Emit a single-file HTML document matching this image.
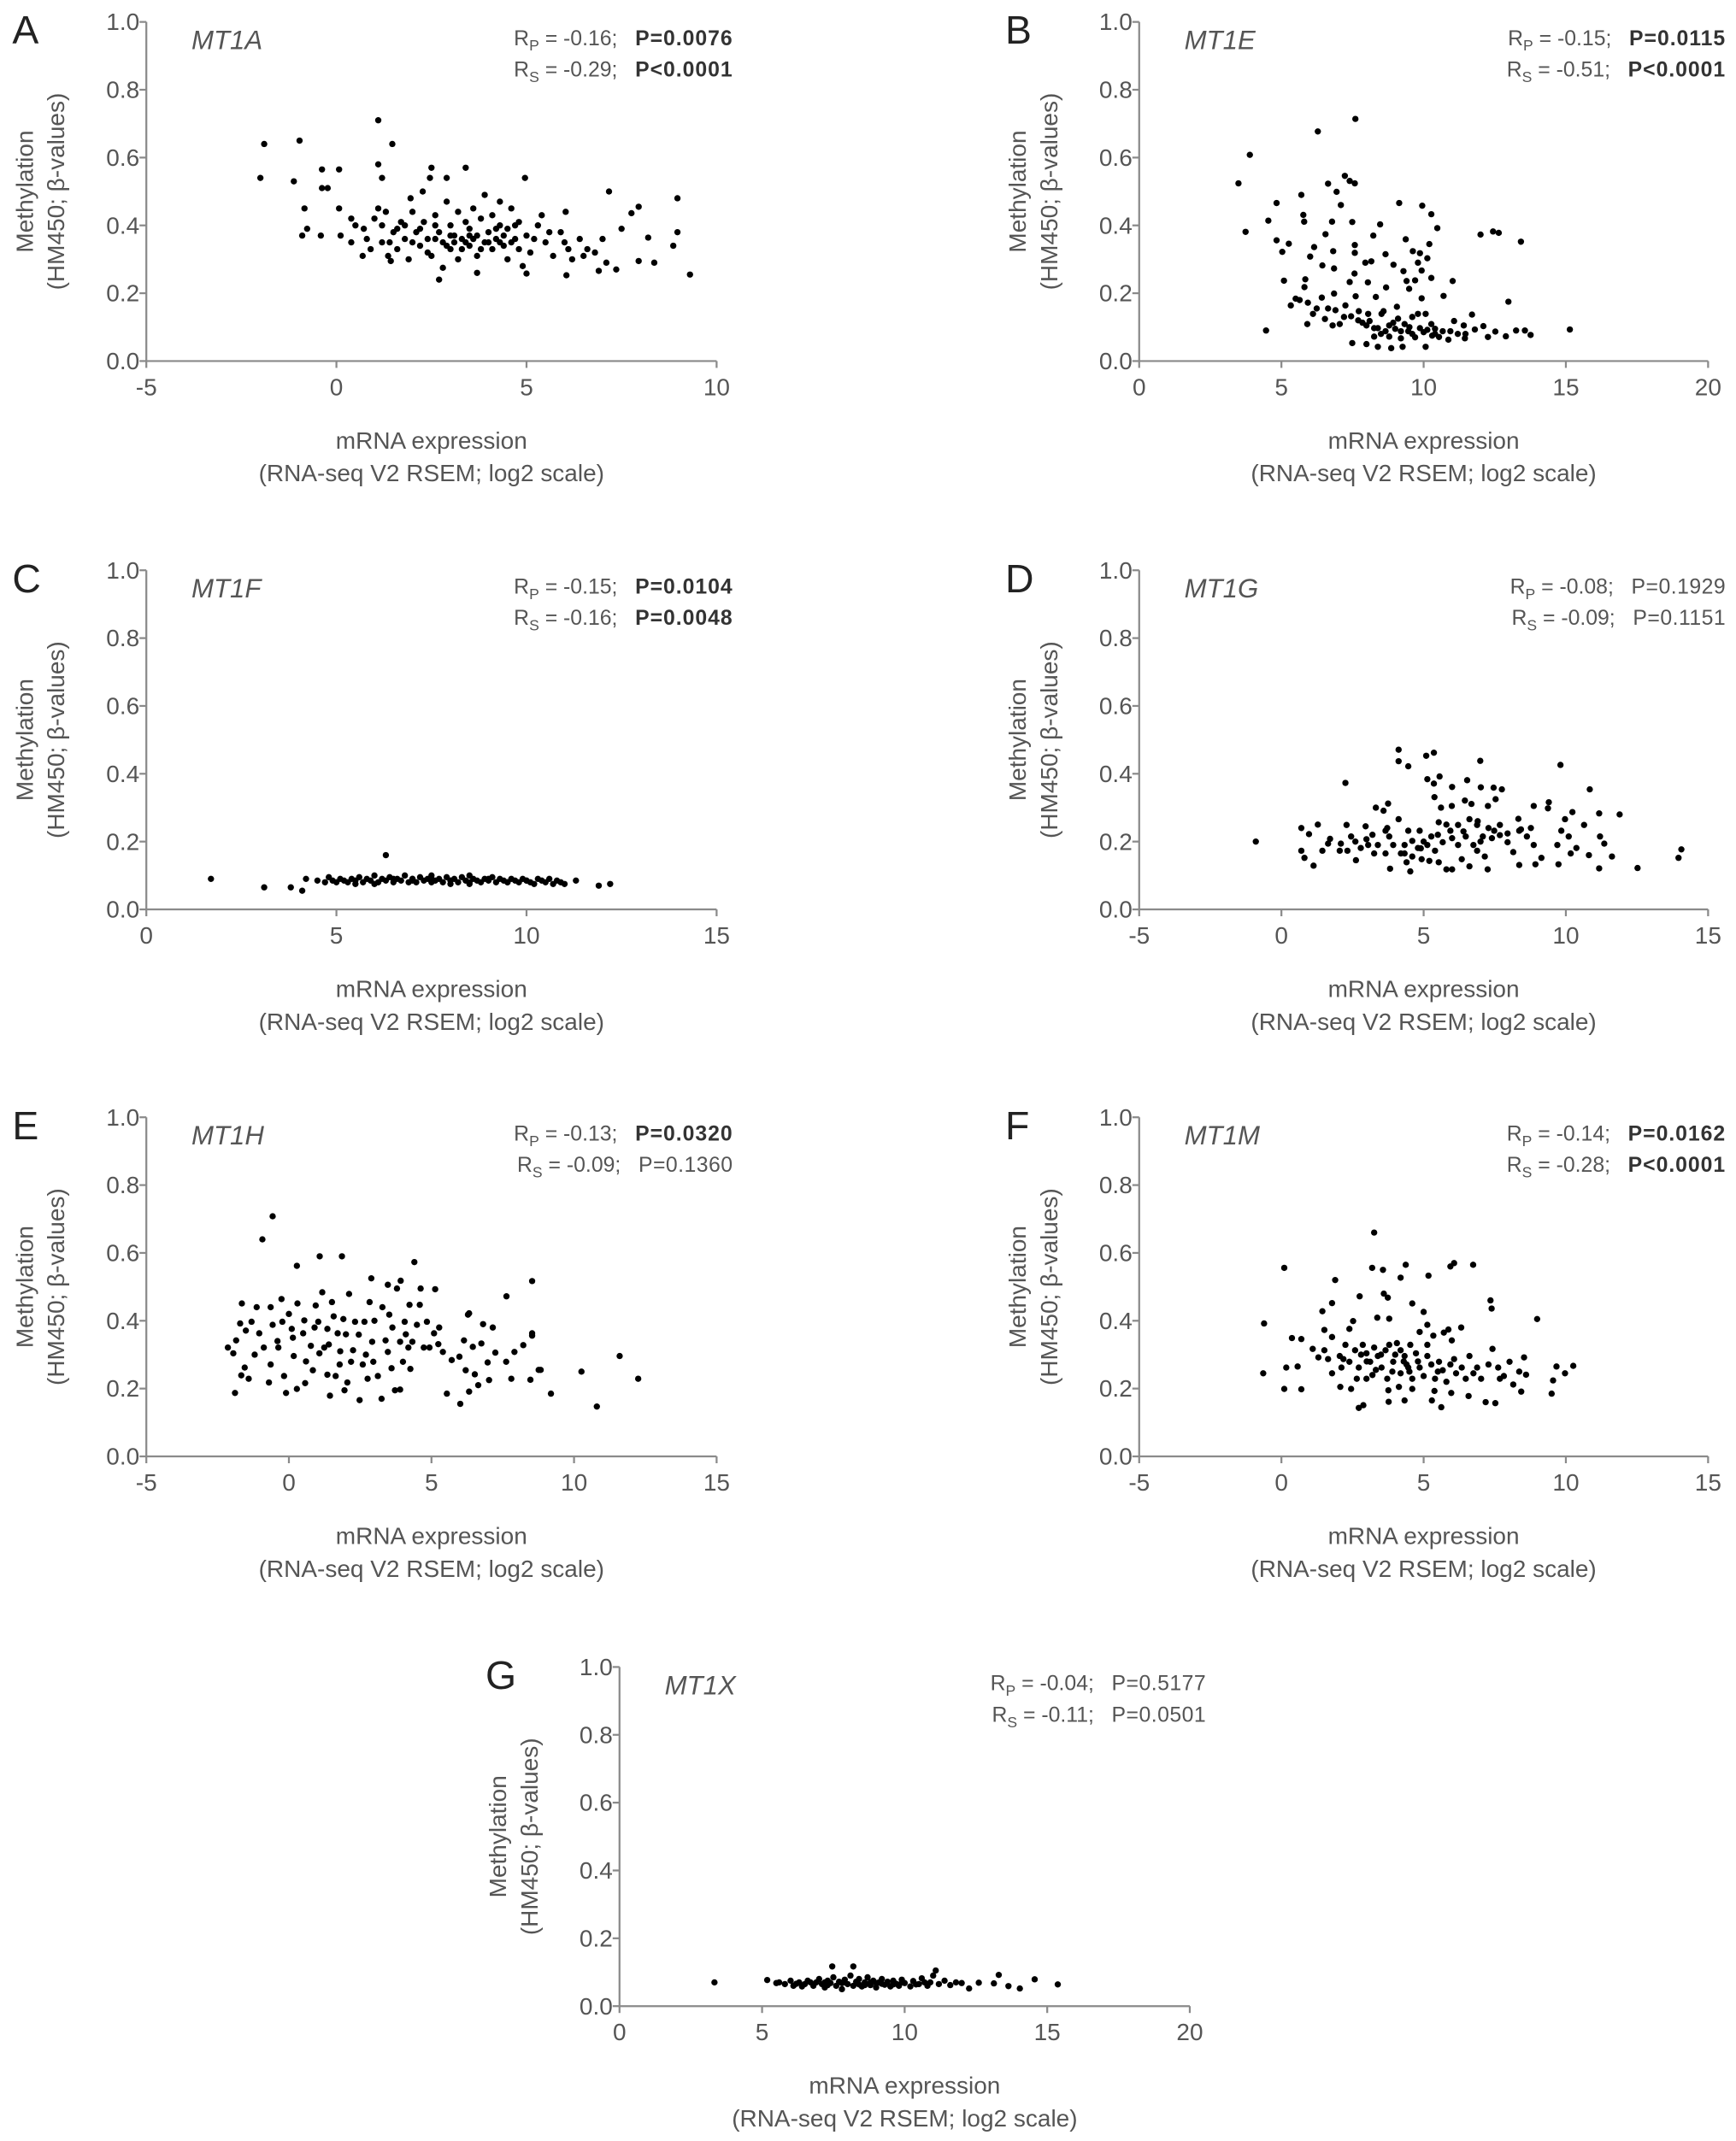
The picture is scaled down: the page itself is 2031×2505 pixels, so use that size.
<!DOCTYPE html>
<html><head><meta charset="utf-8"><style>
html,body{margin:0;padding:0;background:#fff;}
svg{display:block;}
text{font-family:"Liberation Sans",sans-serif;fill:#555;}
.stat{white-space:pre;}
</style></head><body>
<svg id="fig" width="2031" height="2505" viewBox="0 0 1269.4 1565.6" xmlns="http://www.w3.org/2000/svg"></svg>
<script>
const pointsA=[[-2.0,.54],[-1.9,.64],[-1.12,.53],[-0.97,.65],[-0.84,.45],[-0.77,.39],[-0.9,.37],[-0.38,.51],[-0.23,.51],[-0.38,.565],[-0.41,.37],[0.07,.565],[0.07,.45],[0.11,.37],[0.39,.35],[0.39,.42],[0.69,.31],[0.72,.39],[1.1,.71],[1.1,.58],[1.2,.54],[1.47,.64],[1.1,.45],[1.36,.31],[1.43,.295],[2.5,.57],[2.46,.54],[3.4,.57],[4.96,.54],[2.27,.50],[1.95,.48],[2.9,.54],[7.17,.50],[8.97,.48],[7.95,.455],[7.76,.436],[7.5,.39],[8.2,.364],[8.36,.29],[7.95,.295],[8.86,.34],[8.97,.38],[9.3,.255],[7.36,.27],[6.9,.266],[6.05,.253],[6.03,.44],[5.4,.43],[5.0,.258],[2.7,.24],[3.7,.26],[2.8,.275],
[0.5,.40],[0.8,.36],[1.0,.42],[1.2,.35],[1.3,.44],[1.5,.38],[1.6,.33],[1.7,.41],[1.8,.36],[1.9,.30],[2.0,.44],[2.1,.38],[2.2,.34],[2.3,.41],[2.4,.36],[2.5,.31],[2.6,.43],[2.7,.38],[2.8,.35],[2.9,.47],[3.0,.40],[3.0,.33],[3.1,.37],[3.2,.44],[3.2,.30],[3.3,.36],[3.4,.41],[3.5,.34],[3.5,.39],[3.6,.45],[3.7,.37],[3.7,.31],[3.8,.42],[3.9,.35],[3.9,.49],[4.0,.38],[4.1,.33],[4.1,.43],[4.2,.36],[4.3,.40],[4.3,.47],[4.4,.34],[4.5,.39],[4.5,.30],[4.6,.45],[4.7,.36],[4.8,.33],[4.8,.41],[4.9,.28],[5.0,.37],[5.1,.32],[5.3,.40],[5.5,.35],[5.7,.31],[5.9,.38],[6.1,.33],[6.2,.30],[6.4,.36],[6.5,.31],[6.8,.32],[7.0,.36],[7.1,.29],[2.2,.39],[2.6,.36],[3.1,.35],[3.6,.36],[4.0,.35],[4.4,.37],[1.4,.35],[1.8,.40],[2.9,.34],[3.3,.33],[2.4,.32],[3.0,.37],[3.4,.35],[3.8,.33],[4.2,.39],[4.6,.35],[5.2,.36],[5.6,.38],[6.0,.35],[6.6,.33],[1.6,.39],[2.0,.35],[2.6,.40],[3.5,.37],[4.3,.35],[4.7,.40],[0.9,.33],[1.2,.40]];
const pointsB=[[3.49,.524],[3.89,.608],[3.74,.381],[4.46,.09],[4.83,.466],[4.54,.414],[4.83,.356],[5.03,.322],[5.26,.346],[5.09,.237],[5.7,.49],[5.77,.431],[5.8,.411],[6.28,.677],[6.64,.523],[6.94,.499],[7.23,.546],[7.4,.531],[7.58,.524],[7.6,.714],[7.09,.46],[6.78,.411],[6.55,.374],[7.49,.41],[6.15,.336],[6.01,.308],[6.82,.324],[6.44,.282],[6.85,.273],[7.58,.342],[7.58,.319],[7.57,.258],[7.4,.233],[5.84,.241],[5.81,.218],[8.23,.37],[8.47,.403],[8.66,.315],[8.16,.294],[7.95,.29],[8.04,.232],[8.68,.217],[8.94,.284],[9.14,.466],[9.37,.359],[9.29,.265],[9.4,.236],[9.7,.238],[9.49,.213],[9.62,.324],[9.87,.318],[9.8,.29],[9.93,.267],[10.13,.303],[9.95,.458],[10.27,.433],[10.48,.392],[10.2,.345],[10.27,.245],[11.02,.236],[10.7,.192],[12.0,.373],[12.44,.382],[12.64,.378],[13.42,.352],[12.98,.175],[11.7,.137],[15.14,.093],[13.76,.077],[13.56,.09],[13.25,.09],[12.89,.073],[12.52,.087],[12.26,.071],[12.1,.103],[11.8,.093],[11.45,.067],[11.41,.105],[11.07,.118],[10.87,.063],[10.67,.088],[10.4,.08],[10.13,.092],[10.07,.042],[9.87,.097],[9.8,.139],[9.93,.185],[9.6,.08],[9.33,.109],[9.2,.067],[9.26,.042],[9.06,.16],[8.86,.038],[8.79,.105],[8.52,.139],[8.39,.042],[8.32,.189],[8.26,.097],[7.99,.05],[7.99,.105],[7.85,.113],[7.49,.053],[7.61,.191],[7.45,.132],[7.25,.164],[7.05,.109],[6.85,.199],[6.8,.105],[6.64,.155],[6.53,.124],[6.42,.187],[6.24,.155],[6.11,.139],[5.91,.109],[5.93,.172],[5.5,.184],[5.33,.164],[5.64,.18],[8.39,.097],[8.66,.088],[8.93,.113],[9.46,.088],[10.27,.109],[10.54,.071],[10.94,.088],[11.2,.08],[11.47,.08],[9.2,.088],[9.6,.13],[10.07,.139],[8.59,.147],[8.05,.139],[7.72,.147],[8.26,.072],[8.79,.072],[9.0,.095],[9.5,.1],[10.0,.085],[10.4,.095],[8.5,.08],[7.7,.12],[7.2,.13],[6.9,.15],[8.1,.118],[9.1,.125],[9.7,.07],[10.3,.075]];
const pointsC=[[1.7,.09],[3.1,.065],[3.8,.065],[4.1,.055],[4.2,.09],[4.5,.085],[4.7,.08],[4.8,.095],[4.9,.085],[5.0,.08],[5.1,.09],[5.2,.085],[5.3,.08],[5.4,.09],[5.5,.085],[5.6,.095],[5.7,.08],[5.8,.09],[5.9,.085],[6.0,.1],[6.1,.08],[6.2,.09],[6.3,.16],[6.3,.085],[6.4,.095],[6.5,.08],[6.6,.09],[6.7,.085],[6.8,.1],[6.9,.08],[7.0,.09],[7.0,.085],[7.1,.08],[7.2,.095],[7.3,.085],[7.4,.09],[7.5,.08],[7.5,.1],[7.6,.085],[7.7,.09],[7.8,.08],[7.9,.095],[8.0,.085],[8.0,.075],[8.1,.09],[8.2,.08],[8.3,.095],[8.4,.085],[8.5,.08],[8.5,.1],[8.6,.09],[8.7,.085],[8.8,.08],[8.9,.09],[9.0,.085],[9.1,.095],[9.2,.08],[9.3,.09],[9.4,.085],[9.5,.08],[9.6,.09],[9.7,.085],[9.8,.08],[9.9,.09],[10.0,.085],[10.1,.08],[10.2,.075],[10.3,.09],[10.4,.085],[10.5,.08],[10.6,.09],[10.7,.075],[10.8,.085],[10.9,.08],[11.0,.075],[11.3,.085],[11.9,.07],[12.2,.075],[5.5,.075],[6.5,.09],[7.5,.09],[8.5,.075],[9.5,.08],[6.0,.075],[7.0,.09],[8.0,.085],[9.0,.09],[10.0,.085]];
const pointsD=[[-0.9,.2],[.7,.24],[.97,.222],[1.28,.25],[.7,.173],[.81,.152],[1.13,.129],[1.44,.173],[1.71,.208],[2.09,.194],[2.25,.373],[2.29,.249],[2.32,.173],[2.62,.145],[2.96,.245],[3.05,.19],[3.32,.3],[3.59,.291],[3.75,.312],[3.72,.24],[3.79,.215],[3.82,.12],[4.12,.471],[4.12,.437],[4.46,.422],[4.12,.266],[4.33,.165],[4.53,.112],[4.4,.139],[5.09,.453],[5.36,.462],[5.13,.384],[5.36,.371],[5.56,.392],[5.38,.331],[6.0,.361],[6.53,.381],[6.99,.438],[7.01,.36],[7.46,.359],[7.75,.354],[7.53,.325],[7.26,.305],[5.99,.305],[5.61,.3],[6.45,.321],[6.68,.311],[9.81,.426],[10.84,.354],[11.89,.28],[14.06,.177],[13.96,.152],[12.52,.122],[11.62,.156],[11.17,.121],[11.35,.194],[11.2,.215],[11.17,.283],[10.81,.16],[10.64,.249],[10.17,.165],[10.23,.287],[9.74,.133],[9.4,.316],[9.37,.298],[8.87,.305],[9.14,.152],[8.93,.133],[8.87,.19],[8.36,.131],[8.33,.267],[8.42,.236],[8.15,.169],[7.95,.198],[7.68,.219],[7.25,.118],[7.15,.156],[6.88,.173],[6.61,.127],[6.34,.148],[6.0,.118],[5.8,.118],[5.53,.139],[5.2,.143],[5.13,.19],[4.93,.148],[4.8,.181],[4.6,.156],[4.33,.19],[4.2,.165],[3.93,.19],[3.66,.165],[3.39,.19],[3.26,.165],[2.99,.207],[2.79,.181],[2.45,.215],[2.05,.173],[1.64,.194],[4.46,.232],[4.86,.232],[5.27,.215],[5.53,.257],[5.67,.198],[5.94,.232],[6.21,.249],[6.48,.215],[6.61,.266],[6.88,.249],[7.08,.215],[7.28,.24],[7.48,.232],[7.68,.249],[7.95,.224],[8.36,.232],[8.63,.215],[8.77,.24],[9.7,.19],[9.84,.232],[9.97,.266],[10.1,.215],[10.37,.181],[6.21,.19],[5.4,.173],[6.75,.19],[3.66,.232],[4.6,.202],[5.0,.2],[5.5,.22],[6.0,.21],[6.4,.23],[7.0,.2],[7.4,.21],[5.8,.25],[6.9,.26],[4.9,.18],[3.2,.22],[2.6,.2]];
const pointsE=[[-0.57,.708],[-.93,.64],[.28,.562],[1.08,.59],[1.86,.59],[4.4,.573],[2.89,.525],[3.47,.506],[3.92,.518],[3.79,.495],[4.62,.495],[5.13,.493],[8.53,.517],[7.63,.472],[6.32,.422],[6.28,.418],[6.81,.39],[7.15,.38],[8.53,.356],[8.22,.328],[7.91,.308],[11.6,.296],[12.25,.229],[10.26,.25],[9.19,.185],[10.8,.147],[8.76,.255],[8.47,.226],[7.8,.229],[7.62,.279],[7.02,.225],[6.64,.21],[6.32,.191],[6.01,.155],[5.54,.185],[5.71,.284],[5.4,.308],[5.24,.331],[5.98,.294],[6.14,.342],[6.45,.323],[6.75,.333],[6.52,.242],[6.2,.254],[6.97,.277],[7.24,.306],[-1.89,.187],[-2.14,.321],[-1.95,.304],[-1.85,.342],[-1.65,.451],[-1.71,.392],[-1.51,.371],[-1.55,.262],[-1.67,.239],[-1.41,.229],[-1.31,.397],[-1.13,.44],[-1.04,.363],[-.88,.321],[-0.7,.218],[-.64,.44],[-.57,.388],[-.64,.271],[-.37,.321],[-.26,.464],[-.23,.397],[-.1,.187],[-.17,.237],[.1,.376],[.14,.35],[.17,.296],[.3,.451],[.28,.199],[.5,.363],[.54,.401],[.57,.216],[.77,.326],[.84,.254],[.94,.445],[1.03,.397],[1.07,.304],[1.17,.484],[1.24,.321],[1.35,.376],[1.35,.241],[1.44,.179],[1.51,.455],[1.57,.413],[1.64,.237],[1.71,.363],[1.78,.271],[1.91,.405],[1.95,.195],[2.05,.218],[2.11,.479],[2.18,.279],[2.25,.313],[2.32,.397],[2.45,.359],[2.48,.166],[2.59,.271],[2.65,.397],[2.76,.229],[2.83,.455],[2.92,.338],[2.96,.279],[3.12,.237],[3.25,.17],[3.28,.44],[3.39,.342],[3.47,.308],[3.52,.418],[3.63,.38],[3.72,.195],[3.9,.197],[3.9,.338],[4.0,.279],[4.06,.397],[4.19,.321],[4.23,.447],[4.26,.258],[4.33,.338],[4.49,.388],[4.59,.447],[4.73,.321],[4.84,.397],[4.93,.321],[5.09,.363],[5.27,.38],[8.83,.255],[8.53,.363],[-1.2,.3],[-0.4,.34],[0.6,.28],[1.4,.33],[2.0,.36],[2.7,.3],[3.0,.4],[3.6,.26],[4.1,.36],[0.0,.42],[0.9,.38],[1.8,.31]];
const pointsF=[[3.26,.66],[.1,.556],[3.19,.556],[3.57,.55],[4.37,.565],[5.94,.56],[6.07,.57],[6.74,.565],[4.19,.527],[5.17,.533],[1.89,.52],[2.75,.472],[3.6,.48],[3.74,.468],[4.6,.451],[5.0,.426],[1.78,.452],[1.44,.428],[7.35,.46],[7.39,.436],[8.99,.405],[-.61,.392],[-.64,.245],[.1,.199],[.7,.198],[.37,.349],[.7,.346],[.17,.262],[.57,.265],[1.51,.373],[1.78,.352],[1.1,.317],[1.3,.292],[2.52,.399],[2.39,.376],[3.37,.409],[3.79,.406],[5.13,.388],[4.86,.367],[5.34,.356],[5.71,.365],[5.87,.374],[6.32,.38],[5.99,.342],[7.42,.317],[8.53,.292],[9.67,.265],[10.26,.267],[9.97,.245],[9.55,.224],[9.5,.185],[8.43,.191],[8.6,.241],[8.02,.279],[7.18,.16],[7.52,.157],[6.58,.178],[5.62,.145],[5.29,.165],[4.33,.165],[3.77,.161],[2.72,.143],[2.88,.151],[2.07,.205],[2.45,.199],[3.76,.195],[4.13,.205],[4.6,.199],[5.38,.193],[5.97,.187],[7.68,.229],[8.15,.212],[1.78,.245],[2.11,.262],[2.18,.287],[2.25,.329],[2.59,.313],[2.72,.262],[2.65,.229],[2.86,.329],[2.99,.304],[3.12,.279],[3.26,.321],[3.32,.255],[3.39,.296],[3.52,.262],[3.66,.313],[3.72,.229],[3.93,.279],[4.06,.334],[4.19,.245],[4.33,.296],[4.4,.271],[4.53,.329],[4.6,.229],[4.73,.304],[4.86,.262],[5.0,.237],[5.13,.296],[5.27,.271],[5.4,.229],[5.54,.279],[5.67,.254],[5.8,.22],[5.94,.271],[6.14,.245],[6.34,.262],[6.48,.229],[6.61,.296],[6.75,.245],[6.88,.262],[7.02,.229],[7.28,.271],[7.62,.262],[7.82,.237],[8.36,.25],[2.05,.296],[2.39,.279],[2.99,.229],[5.13,.329],[3.79,.329],[4.19,.313],[4.46,.262],[6.07,.287],[1.64,.287],[1.51,.313],[3.0,.28],[3.5,.3],[3.9,.25],[4.3,.28],[4.8,.28],[5.5,.25],[2.8,.3],[3.2,.24],[4.0,.3],[4.5,.25]];
const pointsG=[[3.33,.07],[5.18,.077],[7.46,.117],[8.2,.117],[11.09,.105],[13.3,.092],[14.56,.079],[15.37,.064],[14.04,.052],[13.64,.059],[13.13,.067],[12.6,.069],[12.26,.052],[5.6,.07],[5.8,.065],[6.0,.075],[6.1,.06],[6.3,.07],[6.5,.065],[6.6,.075],[6.8,.06],[6.9,.07],[7.0,.08],[7.1,.065],[7.2,.055],[7.3,.075],[7.4,.068],[7.5,.085],[7.6,.06],[7.7,.072],[7.8,.05],[7.9,.078],[8.0,.065],[8.1,.09],[8.2,.06],[8.3,.072],[8.4,.08],[8.5,.058],[8.6,.07],[8.7,.085],[8.8,.062],[8.9,.075],[9.0,.055],[9.1,.07],[9.2,.08],[9.3,.063],[9.4,.072],[9.5,.058],[9.6,.075],[9.7,.066],[9.8,.06],[9.9,.078],[10.0,.068],[10.2,.058],[10.3,.074],[10.5,.065],[10.6,.082],[10.8,.06],[10.9,.07],[11.0,.09],[11.2,.065],[11.4,.075],[11.6,.062],[11.8,.07],[12.0,.068],[7.2,.07],[7.8,.068],[8.4,.064],[9.0,.068],[9.6,.064],[10.4,.064],[6.4,.058],[5.5,.068],[6.7,.07],[7.3,.062],[7.9,.07],[8.6,.062],[9.2,.066],[9.9,.07],[10.7,.07],[6.2,.066],[8.8,.07]];

const panels=[
 {id:'a',letter:'A',gene:'MT1A',x0:107,top:16,right:524,xmin:-5,xmax:10,xticks:[-5,0,5,10],pts:pointsA,rp:'-0.16',pp:'P=0.0076',bp:true,rs:'-0.29',ps:'P<0.0001',bs:true},
 {id:'b',letter:'B',gene:'MT1E',x0:833,top:16,right:1249,xmin:0,xmax:20,xticks:[0,5,10,15,20],pts:pointsB,rp:'-0.15',pp:'P=0.0115',bp:true,rs:'-0.51',ps:'P<0.0001',bs:true},
 {id:'c',letter:'C',gene:'MT1F',x0:107,top:417,right:524,xmin:0,xmax:15,xticks:[0,5,10,15],pts:pointsC,rp:'-0.15',pp:'P=0.0104',bp:true,rs:'-0.16',ps:'P=0.0048',bs:true},
 {id:'d',letter:'D',gene:'MT1G',x0:833,top:417,right:1249,xmin:-5,xmax:15,xticks:[-5,0,5,10,15],pts:pointsD,rp:'-0.08',pp:'P=0.1929',bp:false,rs:'-0.09',ps:'P=0.1151',bs:false},
 {id:'e',letter:'E',gene:'MT1H',x0:107,top:817,right:524,xmin:-5,xmax:15,xticks:[-5,0,5,10,15],pts:pointsE,rp:'-0.13',pp:'P=0.0320',bp:true,rs:'-0.09',ps:'P=0.1360',bs:false},
 {id:'f',letter:'F',gene:'MT1M',x0:833,top:817,right:1249,xmin:-5,xmax:15,xticks:[-5,0,5,10,15],pts:pointsF,rp:'-0.14',pp:'P=0.0162',bp:true,rs:'-0.28',ps:'P<0.0001',bs:true},
 {id:'g',letter:'G',gene:'MT1X',x0:453,top:1219,right:870,xmin:0,xmax:20,xticks:[0,5,10,15,20],pts:pointsG,rp:'-0.04',pp:'P=0.5177',bp:false,rs:'-0.11',ps:'P=0.0501',bs:false}
];
const yTicks=[0,0.2,0.4,0.6,0.8,1.0];
const NS='http://www.w3.org/2000/svg';
const svg=document.getElementById('fig');
function mk(tag,attrs,parent){const e=document.createElementNS(NS,tag);for(const k in attrs)e.setAttribute(k,attrs[k]);parent.appendChild(e);return e;}
panels.forEach(p=>{
 const H=248, bot=p.top+H;
 const g=mk('g',{},svg);
 
 
 const sx=v=>p.x0+(v-p.xmin)/(p.xmax-p.xmin)*(p.right-p.x0);
 const sy=v=>bot-v*H;
 const ax=mk('path',{d:`M${p.x0},${p.top} V${bot} H${p.right}`,stroke:'#8a8a8a','stroke-width':1.4,fill:'none'},g);
 
 
 yTicks.forEach(t=>{
  mk('line',{x1:p.x0-5,x2:p.x0,y1:sy(t),y2:sy(t),stroke:'#8a8a8a','stroke-width':1.4},g);
  const tl=mk('text',{x:p.x0-5,y:sy(t)+6,'text-anchor':'end','font-size':17.5},g);
  tl.textContent=t.toFixed(1);
  
  
 });
 p.xticks.forEach(t=>{
  mk('line',{x1:sx(t),x2:sx(t),y1:bot,y2:bot+5,stroke:'#8a8a8a','stroke-width':1.4},g);
  const tl=mk('text',{x:sx(t),y:bot+25,'text-anchor':'middle','font-size':17.5},g);
  tl.textContent=String(t);
  
  
 });
 const L=mk('text',{x:p.x0-98,y:p.top+16,'font-size':29,style:'fill:#222'},g);
 L.textContent=p.letter;
 
 
 const G=mk('text',{x:p.x0+33,y:p.top+20,'font-size':19.5,'font-style':'italic'},g);
 G.textContent=p.gene;
 
 
 [[p.rp,p.pp,p.bp,'P',17],[p.rs,p.ps,p.bs,'S',40]].forEach(r=>{
  const t=mk('text',{x:p.x0+429,y:p.top+r[4],'text-anchor':'end','font-size':15.5,'class':'stat'},g);
  
  
  t.innerHTML=`R<tspan font-size="11" dy="4">${r[3]}</tspan><tspan dy="-4"> = ${r[0]};   </tspan><tspan font-weight="${r[2]?'bold':'normal'}" letter-spacing="${r[2]?0.6:0.3}" style="fill:${r[2]?'#333':'#555'}">${r[1]}</tspan>`;
 });
 const cy=p.top+124;
 const y1=mk('text',{x:0,y:0,'text-anchor':'middle','font-size':17.5,transform:`translate(${p.x0-83},${cy}) rotate(-90)`},g);
 y1.textContent='Methylation';
 
 
 const y2=mk('text',{x:0,y:0,'text-anchor':'middle','font-size':17.5,transform:`translate(${p.x0-60},${cy}) rotate(-90)`},g);
 y2.textContent='(HM450; β-values)';
 
 
 const cx=(p.x0+p.right)/2;
 const x1=mk('text',{x:cx,y:bot+64,'text-anchor':'middle','font-size':17.5},g);
 x1.textContent='mRNA expression';
 
 
 const x2=mk('text',{x:cx,y:bot+88,'text-anchor':'middle','font-size':17.5},g);
 x2.textContent='(RNA-seq V2 RSEM; log2 scale)';
 
 
 p.pts.forEach(pt=>{
  const c=mk('circle',{cx:sx(pt[0]),cy:sy(pt[1]),r:2.3,fill:'#000'},g);
  
  
 });
});
</script>
</body></html>
